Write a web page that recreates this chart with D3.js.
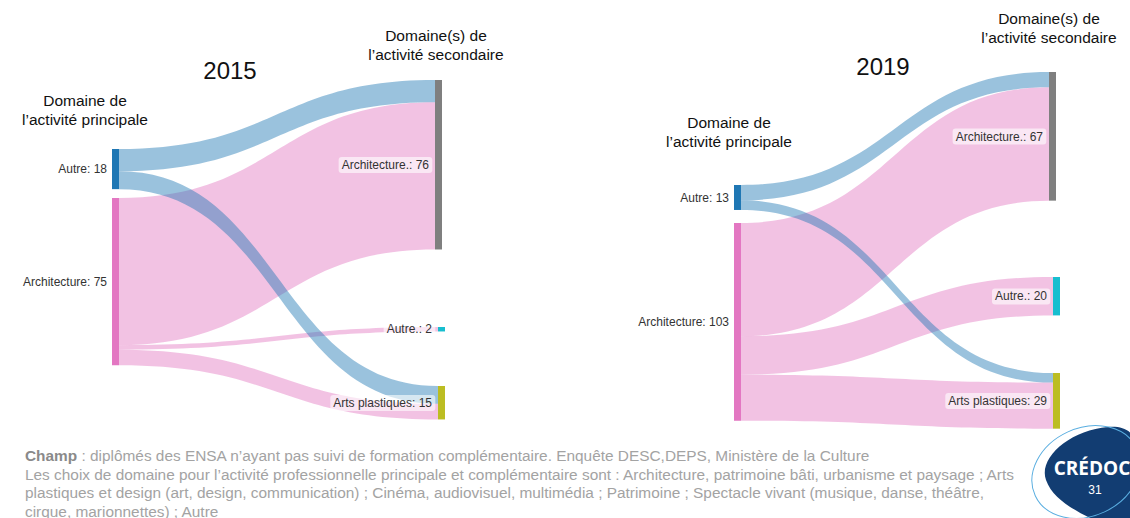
<!DOCTYPE html>
<html><head><meta charset="utf-8">
<script src="https://cdn.jsdelivr.net/npm/d3@7"></script>
<style>
html,body{margin:0;padding:0;background:#fff;}
svg{display:block;font-family:"Liberation Sans",Arial,sans-serif;}
</style></head>
<body><svg id="c" width="1130" height="518"></svg>
<script>
// ---------- DATA ----------
const years = ["2015", "2019"];
const sourceNames = ["Autre", "Architecture"];
const targetNames = ["Architecture.", "Autre.", "Arts plastiques"];
// rows = source (principal), cols = target (secondaire)
const flows2015 = [[10, 0, 8], [66, 2, 7]];
const flows2019 = [[8, 0, 5], [59, 20, 24]];
const sourceColors = ["#1f77b4", "#e377c2"];
const targetColors = ["#7f7f7f", "#17becf", "#bcbd22"];
const headingPrincipal = ["Domaine de", "l’activité principale"];
const headingSecondaire = ["Domaine(s) de", "l’activité secondaire"];
const footerLines = [
  [["Champ", true], [" : diplômés des ENSA n’ayant pas suivi de formation complémentaire. Enquête DESC,DEPS, Ministère de la Culture", false]],
  [["Les choix de domaine pour l’activité professionnelle principale et complémentaire sont : Architecture, patrimoine bâti, urbanisme et paysage ; Arts", false]],
  [["plastiques et design (art, design, communication) ; Cinéma, audiovisuel, multimédia ; Patrimoine ; Spectacle vivant (musique, danse, théâtre,", false]],
  [["cirque, marionnettes) ; Autre", false]]
];
const pageNumber = "31";

// ---------- LAYOUT (positions/styles only) ----------
const panels = [
  { flows: flows2015, xs: 112, xt: 435, k: 2.23, srcTop: [149, 198], tgtTop: [80, 327, 386], tgtDx: [0, 3, 3],
    year: { x: 230, y: 79 }, hp: { x: 85, y: 106 }, hs: { x: 436, y: 41 } },
  { flows: flows2019, xs: 734, xt: 1049, k: 1.92, srcTop: [185, 223], tgtTop: [72, 277, 373], tgtDx: [0, 4, 4],
    year: { x: 883, y: 75 }, hp: { x: 729, y: 128 }, hs: { x: 1049, y: 24 } }
];
const nodeW = 7;

const svg = d3.select("#c");

panels.forEach((p, pi) => {
  const g = svg.append("g");
  const h = d3.scaleLinear().domain([0, 1]).range([0, p.k]);
  const srcVals = p.flows.map(r => d3.sum(r));
  const tgtVals = targetNames.map((_, j) => d3.sum(p.flows, r => r[j]));
  const src = sourceNames.map((n, i) => ({ name: n, value: srcVals[i], x0: p.xs, x1: p.xs + nodeW, y0: p.srcTop[i], y1: p.srcTop[i] + h(srcVals[i]), color: sourceColors[i], off: 0 }));
  const tgt = targetNames.map((n, j) => ({ name: n, value: tgtVals[j], x0: p.xt + p.tgtDx[j], x1: p.xt + p.tgtDx[j] + nodeW, y0: p.tgtTop[j], y1: p.tgtTop[j] + h(tgtVals[j]), color: targetColors[j], off: 0 }));
  const links = [];
  p.flows.forEach((row, i) => row.forEach((v, j) => { if (v > 0) links.push({ s: src[i], t: tgt[j], v, si: i }); }));
  links.forEach(l => { l.sy0 = l.s.y0 + l.s.off; l.s.off += h(l.v); l.sy1 = l.s.y0 + l.s.off; });
  links.slice().sort((a, b) => a.si - b.si).forEach(l => { l.ty0 = l.t.y0 + l.t.off; l.t.off += h(l.v); l.ty1 = l.t.y0 + l.t.off; });

  const bandPath = l => {
    const x0 = l.s.x1, x1 = l.t.x0, xm = (x0 + x1) / 2;
    return `M${x0},${l.sy0}C${xm},${l.sy0} ${xm},${l.ty0} ${x1},${l.ty0}L${x1},${l.ty1}C${xm},${l.ty1} ${xm},${l.sy1} ${x0},${l.sy1}Z`;
  };
  g.append("g").selectAll("path").data(links.slice().sort((a, b) => b.si - a.si)).join("path")
    .attr("d", bandPath).attr("fill", d => d.s.color).attr("fill-opacity", 0.45);

  g.append("g").selectAll("rect").data(src.concat(tgt)).join("rect")
    .attr("x", d => d.x0).attr("y", d => d.y0).attr("width", nodeW).attr("height", d => Math.max(1, d.y1 - d.y0))
    .attr("fill", d => d.color);

  g.append("g").selectAll("text").data(src).join("text")
    .attr("x", d => d.x0 - 5).attr("y", d => (d.y0 + d.y1) / 2).attr("dy", "0.35em")
    .attr("text-anchor", "end").attr("font-size", 12).attr("fill", "#333")
    .text(d => `${d.name}: ${d.value}`);
  const tl = g.append("g").selectAll("g").data(tgt).join("g");
  tl.append("rect").attr("class", "bg");
  tl.append("text")
    .attr("x", d => d.x0 - 6).attr("y", d => (d.y0 + d.y1) / 2).attr("dy", "0.35em")
    .attr("text-anchor", "end").attr("font-size", 12).attr("fill", "#333")
    .text(d => `${d.name}: ${d.value}`);
  tl.each(function () {
    const t = d3.select(this).select("text").node().getBBox();
    d3.select(this).select("rect.bg").attr("x", t.x - 3).attr("y", t.y - 1).attr("width", t.width + 6).attr("height", t.height + 2)
      .attr("rx", 3).attr("fill", "#fff").attr("fill-opacity", 0.6);
  });

  g.append("text").attr("x", p.year.x).attr("y", p.year.y).attr("text-anchor", "middle").attr("font-size", 24).attr("fill", "#111").text(years[pi]);
  headingPrincipal.forEach((s, i) => g.append("text").attr("x", p.hp.x).attr("y", p.hp.y + i * 19).attr("text-anchor", "middle").attr("font-size", 15.5).attr("fill", "#111").text(s));
  headingSecondaire.forEach((s, i) => g.append("text").attr("x", p.hs.x).attr("y", p.hs.y + i * 19).attr("text-anchor", "middle").attr("font-size", 15.5).attr("fill", "#111").text(s));
});

// footer
const ft = svg.append("g");
footerLines.forEach((parts, i) => {
  const t = ft.append("text").attr("x", 25).attr("y", 461 + i * 18.5).attr("font-size", 15.4).attr("fill", "#a3a3a3");
  parts.forEach(([s, b]) => t.append("tspan").attr("font-weight", b ? "bold" : "normal").attr("fill", b ? "#8a8a8a" : null).text(s));
});

// logo
const lg = svg.append("g");
lg.append("path").attr("d", "M1046,480 C1038,458 1070,430 1108,427 C1132,425 1140,440 1140,462 L1140,518 L1090,518 C1070,508 1052,497 1046,480 Z").attr("fill", "#123d72");
lg.append("ellipse").attr("cx", 1086).attr("cy", 472).attr("rx", 56).attr("ry", 44).attr("transform", "rotate(-25 1086 472)")
  .attr("fill", "none").attr("stroke", "#5aaee0").attr("stroke-width", 1);
lg.append("text").attr("x", 1092).attr("y", 475).attr("text-anchor", "middle").attr("font-size", 19).attr("font-weight", "bold").attr("fill", "#fff").attr("font-family", "'Open Sans',sans-serif").text("CRÉDOC");
lg.append("text").attr("x", 1095).attr("y", 494).attr("text-anchor", "middle").attr("font-size", 12).attr("fill", "#fff").text(pageNumber);
</script></body></html>
